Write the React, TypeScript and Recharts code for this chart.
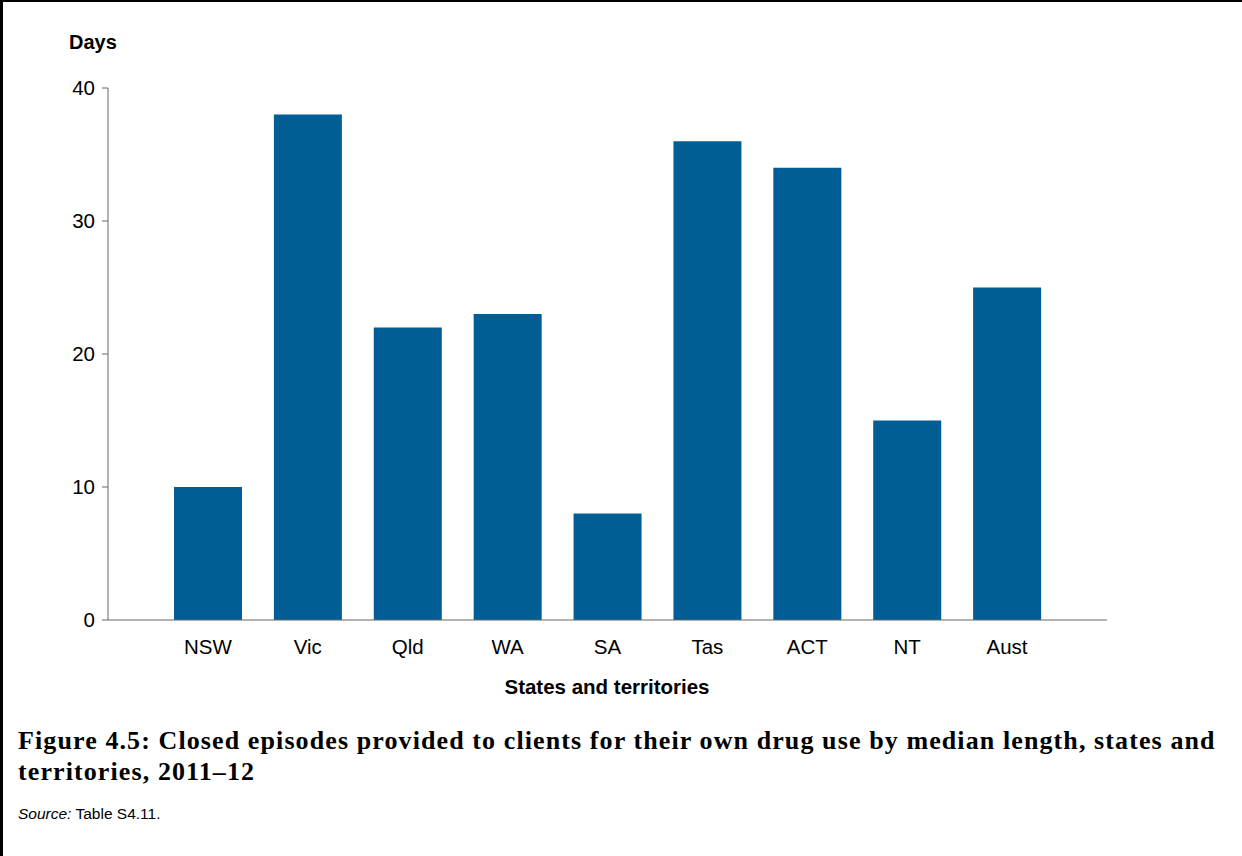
import { BarChart, Bar, XAxis, YAxis } from 'recharts';

const states = ['NSW', 'Vic', 'Qld', 'WA', 'SA', 'Tas', 'ACT', 'NT', 'Aust'];
const medianDays = [10, 38, 22, 23, 8, 36, 34, 15, 25];
const dayTicks = [0, 10, 20, 30, 40];

const chartData = states.map((state, i) => ({ state, days: medianDays[i] }));

const sans = 'Arial, "Liberation Sans", sans-serif';

export default function App() {
    return (
        <div
            style={{
                position: 'absolute',
                left: 0,
                top: 0,
                width: 1242,
                height: 856,
                background: '#fff',
                fontFamily: sans,
                overflow: 'hidden',
            }}
        >
            <div style={{ position: 'absolute', left: 0, top: 0 }}>
                <BarChart
                    width={1242}
                    height={720}
                    data={chartData}
                    margin={{ top: 88, right: 135, left: 0, bottom: 40 }}
                >
                    <XAxis
                        dataKey="state"
                        height={60}
                        padding={{ left: 50, right: 50 }}
                        tickLine={false}
                        tickSize={0}
                        tickMargin={19}
                        axisLine={{ stroke: '#666', strokeWidth: 1 }}
                        tick={{ fill: '#000', fontSize: 20.5, fontFamily: sans }}
                        interval={0}
                    />
                    <YAxis
                        width={108}
                        domain={[0, 40]}
                        ticks={dayTicks}
                        tickSize={6}
                        tickMargin={7}
                        axisLine={{ stroke: '#666', strokeWidth: 1 }}
                        tickLine={{ stroke: '#666', strokeWidth: 1 }}
                        tick={{ fill: '#000', fontSize: 20.5, fontFamily: sans }}
                    />
                    <Bar dataKey="days" fill="#005e95" barSize={68} isAnimationActive={false} />
                </BarChart>
            </div>

            {/* axis titles */}
            <div style={{ position: 'absolute', left: 69, top: 31, fontSize: 20, fontWeight: 'bold', color: '#000' }}>
                Days
            </div>
            <div
                style={{
                    position: 'absolute',
                    left: 407,
                    width: 400,
                    top: 675,
                    textAlign: 'center',
                    fontSize: 20.5,
                    fontWeight: 'bold',
                    color: '#000',
                }}
            >
                States and territories
            </div>

            {/* caption */}
            <div
                style={{
                    position: 'absolute',
                    left: 18,
                    top: 725,
                    width: 1220,
                    fontFamily: '"Liberation Serif", serif',
                    fontWeight: 'bold',
                    fontSize: 26,
                    letterSpacing: 1.1,
                    lineHeight: '31px',
                    color: '#000',
                    whiteSpace: 'nowrap',
                }}
            >
                Figure 4.5: Closed episodes provided to clients for their own drug use by median length, states and
                <br />
                territories, 2011–12
            </div>
            <div style={{ position: 'absolute', left: 18, top: 805, fontSize: 15.5, color: '#000' }}>
                <i>Source:</i> Table S4.11.
            </div>

            {/* frame: top and left edges only */}
            <div
                style={{
                    position: 'absolute',
                    left: 0,
                    top: 0,
                    width: 1242,
                    height: 856,
                    borderTop: '2px solid #000',
                    borderLeft: '3px solid #000',
                    boxSizing: 'border-box',
                    pointerEvents: 'none',
                }}
            />
        </div>
    );
}
